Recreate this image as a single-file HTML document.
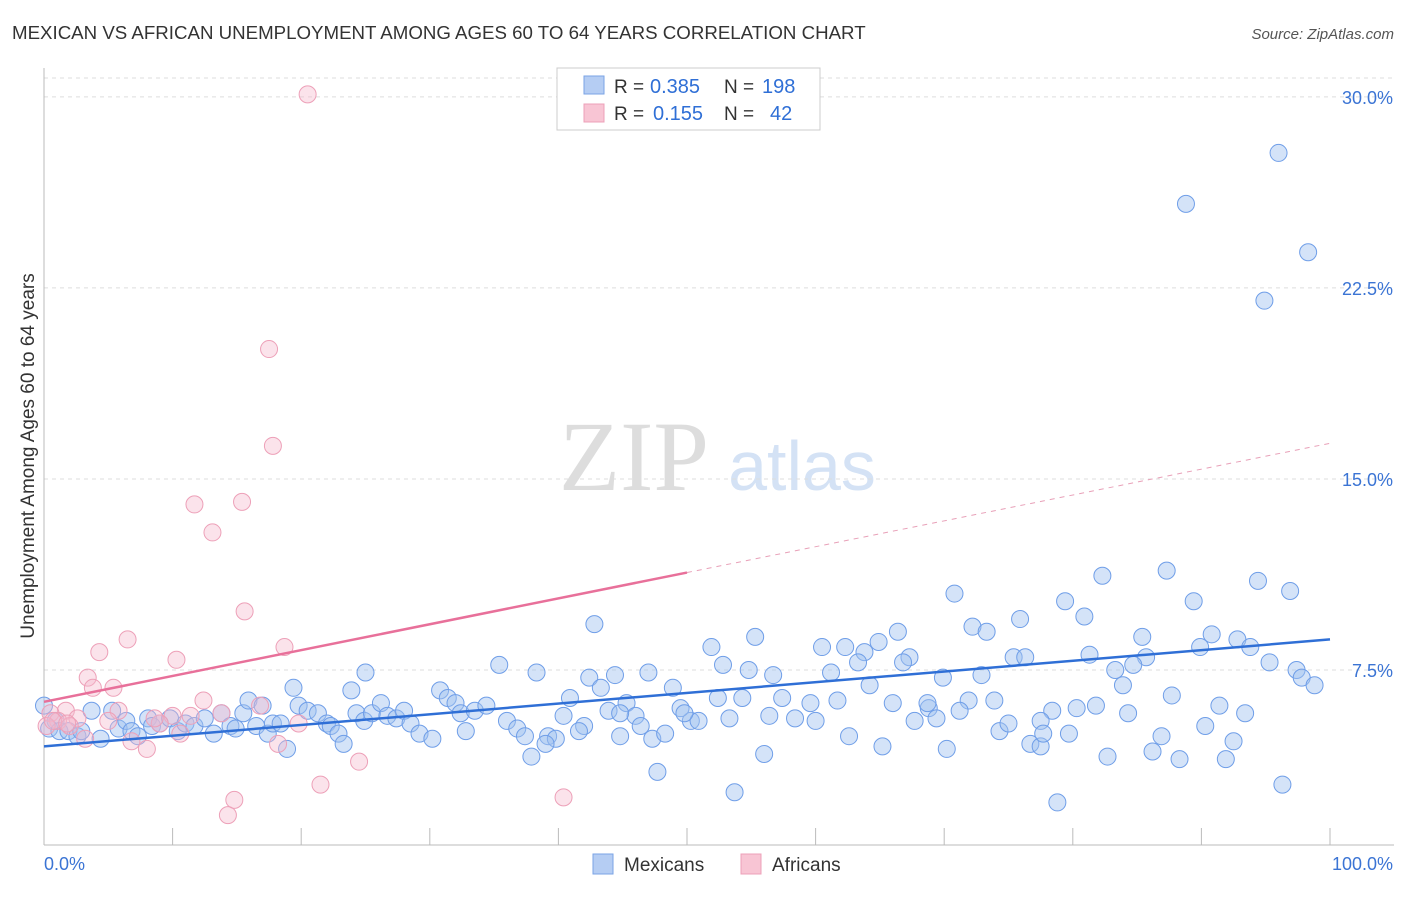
<!DOCTYPE html>
<html><head><meta charset="utf-8"><style>
body{margin:0;background:#fff;font-family:"Liberation Sans",sans-serif;}
svg text{font-family:"Liberation Sans",sans-serif;}
</style></head><body>
<svg id="chart" width="1406" height="892">
<text x="12" y="39" font-size="18.7" fill="#333">MEXICAN VS AFRICAN UNEMPLOYMENT AMONG AGES 60 TO 64 YEARS CORRELATION CHART</text>
<text x="1394" y="39" font-size="15" fill="#555" font-style="italic" text-anchor="end">Source: ZipAtlas.com</text>
<text x="34" y="456" font-size="19" fill="#333" text-anchor="middle" transform="rotate(-90 34 456)">Unemployment Among Ages 60 to 64 years</text>
<g><text x="634" y="490" font-size="100" fill="#ddd" text-anchor="middle" style="font-family:'Liberation Serif',serif">ZIP</text><text x="802" y="490" font-size="70" fill="#d4e2f5" text-anchor="middle">atlas</text></g>
<g id="grid"></g><g id="axes"></g><g id="pts"></g><g id="trend"></g>
<g>
<rect x="557" y="68" width="263" height="62" fill="#fff" stroke="#ccc"/>
<rect x="584" y="76" width="20" height="18" fill="#b5cdf3" stroke="#7aa3e6"/>
<rect x="584" y="104" width="20" height="18" fill="#f8c5d4" stroke="#eda0b8"/>
<text x="614" y="93" font-size="19" fill="#333">R = </text><text x="650" y="93" font-size="20" fill="#2f6fd6">0.385</text><text x="724" y="93" font-size="19" fill="#333">N = </text><text x="762" y="93" font-size="20" fill="#2f6fd6">198</text>
<text x="614" y="120" font-size="19" fill="#333">R = </text><text x="653" y="120" font-size="20" fill="#2f6fd6">0.155</text><text x="724" y="120" font-size="19" fill="#333">N = </text><text x="770" y="120" font-size="20" fill="#2f6fd6">42</text>
</g>
<g>
<rect x="593" y="854" width="20" height="20" fill="#b5cdf3" stroke="#7aa3e6"/>
<text x="624" y="871" font-size="19" fill="#333">Mexicans</text>
<rect x="741" y="854" width="20" height="20" fill="#f8c5d4" stroke="#eda0b8"/>
<text x="772" y="871" font-size="19" fill="#333">Africans</text>
</g>
</svg>
<script>
const yTicks=[7.5,15,22.5,30];
const yTickLabels=["7.5%","15.0%","22.5%","30.0%"];
const mexX=[96.0,88.8,98.3,94.9,82.3,87.3,70.8,94.4,96.9,79.4,89.4,75.9,80.9,72.2,73.3,42.8,66.4,90.8,85.4,92.8,55.3,51.9,60.5,62.3,64.9,89.9,93.8,63.8,75.4,76.3,81.3,67.3,85.7,95.3,97.4,97.8,98.8,63.3,66.8,84.7,83.3,83.9,72.9,69.9,52.8,54.8,56.7,61.2,35.4,38.3,42.4,44.4,47.0,25.0,43.3,48.9,64.2,19.4,23.9,30.8,31.4,40.9,45.3,52.4,54.3,57.4,59.6,61.7,66.0,68.8,71.9,73.9,87.7,91.4,81.8,78.4,80.3,71.2,68.7,93.4,84.3,69.4,67.7,56.4,58.4,60.0,53.3,50.3,50.9,49.5,49.8,46.0,43.9,44.8,40.4,46.4,42.0,41.6,36.0,36.8,37.4,39.2,39.8,39.0,37.9,47.3,48.3,62.6,65.2,70.2,74.3,75.0,77.5,76.7,77.5,77.7,79.7,82.7,86.2,86.9,88.3,90.3,92.5,91.9,96.3,78.8,56.0,53.7,47.7,44.8,0,0.9,0.4,1.2,1.9,2.6,2.9,3.7,4.4,5.3,5.8,6.4,6.8,7.3,8.1,8.4,9.0,9.8,10.4,11.0,11.7,12.5,13.2,13.8,14.5,14.9,15.5,15.9,16.5,17.0,17.4,17.8,18.4,18.9,19.8,20.5,21.3,22.0,22.3,22.9,23.3,24.3,24.9,25.5,26.2,26.7,27.4,28.0,28.5,29.2,30.2,32.0,32.4,33.5,34.4,32.8];
const mexY=[27.8,25.8,23.9,22.0,11.2,11.4,10.5,11.0,10.6,10.2,10.2,9.5,9.6,9.2,9.0,9.3,9.0,8.9,8.8,8.7,8.8,8.4,8.4,8.4,8.6,8.4,8.4,8.2,8.0,8.0,8.1,8.0,8.0,7.8,7.5,7.2,6.9,7.8,7.8,7.7,7.5,6.9,7.3,7.2,7.7,7.5,7.3,7.4,7.7,7.4,7.2,7.3,7.4,7.4,6.8,6.8,6.9,6.8,6.7,6.7,6.4,6.4,6.2,6.4,6.4,6.4,6.2,6.3,6.2,6.0,6.3,6.3,6.5,6.1,6.1,5.9,6.0,5.9,6.2,5.8,5.8,5.6,5.5,5.7,5.6,5.5,5.6,5.5,5.5,6.0,5.8,5.7,5.9,5.8,5.7,5.3,5.3,5.1,5.5,5.2,4.9,4.9,4.8,4.6,4.1,4.8,5.0,4.9,4.5,4.4,5.1,5.4,5.5,4.6,4.5,5.0,5.0,4.1,4.3,4.9,4.0,5.3,4.7,4.0,3.0,2.3,4.2,2.7,3.5,4.9,6.1,5.5,5.2,5.1,5.1,4.9,5.1,5.9,4.8,5.9,5.2,5.5,5.1,4.9,5.6,5.3,5.4,5.6,5.1,5.4,5.3,5.6,5.0,5.8,5.3,5.2,5.8,6.3,5.3,6.1,5.0,5.4,5.4,4.4,6.1,5.9,5.8,5.4,5.3,5.0,4.6,5.8,5.5,5.8,6.2,5.7,5.6,5.9,5.4,5.0,4.8,6.2,5.8,5.9,6.1,5.1];
const afrX=[20.5,17.5,17.8,11.7,15.4,13.1,15.6,6.5,4.3,18.7,10.3,3.4,5.4,3.8,12.4,16.8,5.8,1.7,0.5,10.0,11.4,13.8,2.6,5.0,1.1,9.0,19.8,0.2,2.0,10.6,6.8,8.0,18.2,24.5,21.5,14.8,40.4,14.3,0.7,1.8,8.6,3.2];
const afrY=[30.1,20.1,16.3,14.0,14.1,12.9,9.8,8.7,8.2,8.4,7.9,7.2,6.8,6.8,6.3,6.1,5.9,5.9,5.8,5.7,5.7,5.8,5.6,5.5,5.5,5.4,5.4,5.3,5.3,5.0,4.7,4.4,4.6,3.9,3.0,2.4,2.5,1.8,5.5,5.4,5.6,4.8];
const mexTrend=[4.5,8.7];
const afrTrend=[6.25,16.4];
const NS="http://www.w3.org/2000/svg";
const X0=44,X1=1330,Y0=861,PY=25.47;
function sx(v){return X0+(X1-X0)*v/100;}
function sy(v){return Y0-v*PY;}
function mk(tag,attrs,parent){const e=document.createElementNS(NS,tag);for(const k in attrs)e.setAttribute(k,attrs[k]);parent.appendChild(e);return e;}
const grid=document.getElementById('grid'),axes=document.getElementById('axes'),pts=document.getElementById('pts'),tr=document.getElementById('trend');
mk('line',{x1:44,x2:1394,y1:78,y2:78,stroke:'#ddd','stroke-dasharray':'4,4'},grid);
yTicks.forEach((t,i)=>{
 const l=mk('line',{x1:44,x2:1394,y1:sy(t),y2:sy(t),stroke:'#ddd','stroke-dasharray':'4,4'},grid);
 
 
 const tx=mk('text',{x:1393,y:sy(t)+7,'font-size':18,fill:'#3b74d4','text-anchor':'end'},axes);
 tx.textContent=yTickLabels[i];
 
 
});
mk('line',{x1:44,x2:44,y1:68,y2:845,stroke:'#bbb'},axes);
mk('line',{x1:44,x2:1394,y1:845,y2:845,stroke:'#bbb'},axes);
for(let i=0;i<=10;i++){const t=mk('line',{x1:sx(i*10),x2:sx(i*10),y1:828,y2:845,stroke:'#bbb'},axes);
 
 }
const xl=mk('text',{x:44,y:870,'font-size':18,fill:'#3b74d4'},axes);xl.textContent='0.0%';


const xr=mk('text',{x:1393,y:870,'font-size':18,fill:'#3b74d4','text-anchor':'end'},axes);xr.textContent='100.0%';


mexX.forEach((v,i)=>{const c=mk('circle',{cx:sx(v),cy:sy(mexY[i]),r:8.5,fill:'rgba(160,192,240,0.45)',stroke:'#6f9ee8','stroke-width':1},pts);
 
 });
afrX.forEach((v,i)=>{const c=mk('circle',{cx:sx(v),cy:sy(afrY[i]),r:8.5,fill:'rgba(246,185,204,0.4)',stroke:'#eda0b8','stroke-width':1},pts);
 
 });
const bl=mk('line',{x1:sx(0),y1:sy(mexTrend[0]),x2:sx(100),y2:sy(mexTrend[1]),stroke:'#2f6fd6','stroke-width':2.5},tr);


const am=afrTrend[0]+(afrTrend[1]-afrTrend[0])*0.5;
const pl=mk('line',{x1:sx(0),y1:sy(afrTrend[0]),x2:sx(50),y2:sy(am),stroke:'#e8709a','stroke-width':2.5},tr);


const pd=mk('line',{x1:sx(50),y1:sy(am),x2:sx(100),y2:sy(afrTrend[1]),stroke:'#e8a0b8','stroke-width':1,'stroke-dasharray':'5,5'},tr);


</script>
</body></html>
